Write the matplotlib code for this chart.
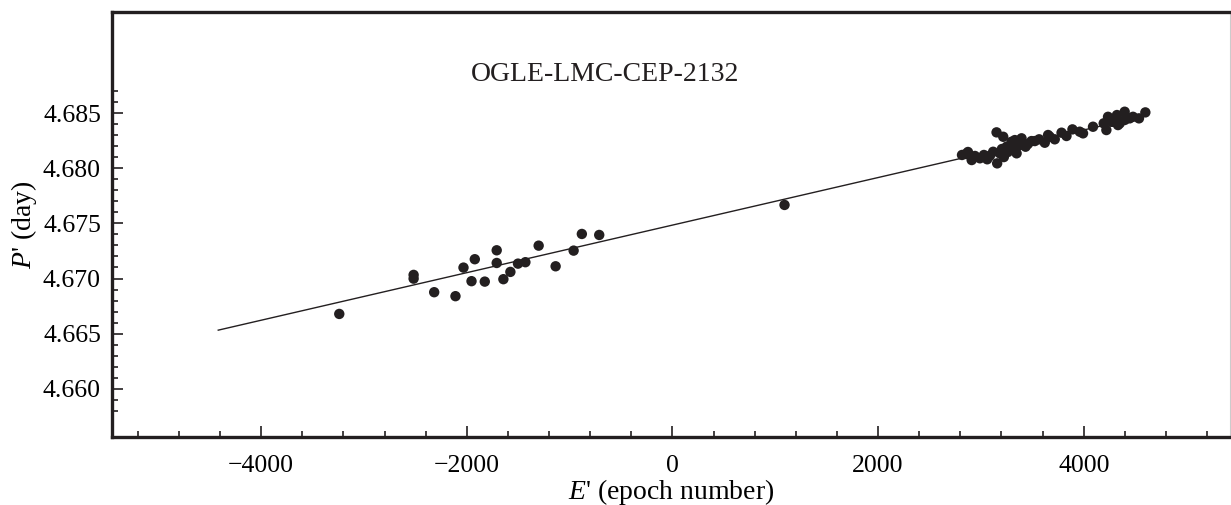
#!/usr/bin/env python3
# -*- coding: utf-8 -*-

import matplotlib
matplotlib.use('Agg')
import matplotlib.pyplot as plt
from matplotlib.ticker import FixedLocator, MultipleLocator

# Epoch numbers E' and periods P' (day)
left_E = [-3240, -2517, -2517, -2317, -2110, -2032, -1954, -1922, -1825, -1709,
          -1709, -1644, -1576, -1502, -1430, -1301, -1136, -961, -881, -712, 1090]
left_P = [4.66679, 4.67033, 4.66999, 4.66876, 4.66840, 4.67099, 4.66976, 4.67175,
          4.66972, 4.67256, 4.67141, 4.66994, 4.67060, 4.67135, 4.67148, 4.67298,
          4.67111, 4.67253, 4.67404, 4.67395, 4.67667]

right_E = [2816, 2854, 2874, 2910, 2942, 2990, 3029, 3061, 3087, 3119, 3152, 3217,
           3158, 3184, 3204, 3250, 3223, 3262, 3298, 3301, 3347, 3330, 3395, 3379,
           3434, 3492, 3456, 3524, 3566, 3621, 3653, 3670, 3718, 3784, 3832, 3890,
           3961, 3993, 4090, 4194, 4220, 4236, 4269, 4284, 4323, 4333, 4350, 4398,
           4398, 4420, 4447, 4479, 4537, 4599]
right_P = [4.68120, 4.68129, 4.68147, 4.68074, 4.68111, 4.68090, 4.68120, 4.68081,
           4.68111, 4.68149, 4.68325, 4.68285, 4.68044, 4.68135, 4.68174, 4.68195,
           4.68101, 4.68147, 4.68240, 4.68174, 4.68135, 4.68255, 4.68271, 4.68210,
           4.68195, 4.68246, 4.68219, 4.68246, 4.68262, 4.68231, 4.68301, 4.68285,
           4.68262, 4.68322, 4.68292, 4.68352, 4.68331, 4.68316, 4.68376, 4.68407,
           4.68346, 4.68466, 4.68421, 4.68421, 4.68482, 4.68391, 4.68407, 4.68512,
           4.68437, 4.68452, 4.68452, 4.68466, 4.68452, 4.68506]

# linear fit, drawn between its two end points
fit_E = [-4417, 4600]
fit_P = [4.66532, 4.68476]

y_major = [4.660, 4.665, 4.670, 4.675, 4.680, 4.685]
y_minor = [4.658 + 0.001 * i for i in range(30)]

plt.rcParams['font.family'] = ['Liberation Serif', 'DejaVu Serif']
plt.rcParams['mathtext.fontset'] = 'custom'
plt.rcParams['mathtext.rm'] = 'Liberation Serif'
plt.rcParams['mathtext.it'] = 'Liberation Serif:italic'

dot = '#231f20'

fig = plt.figure(figsize=(12.31, 5.05), dpi=100)
ax = fig.add_axes([0.091, 0.135, 0.908, 0.841])

ax.plot(fit_E, fit_P, color=dot, linewidth=1.0, zorder=2)
ax.scatter(left_E + right_E, left_P + right_P, s=56, color=dot,
           edgecolors='none', zorder=3)

ax.set_xlim(-5450, 5420)
ax.set_ylim(4.65565, 4.69415)

ax.xaxis.set_major_locator(FixedLocator([-4000, -2000, 0, 2000, 4000]))
ax.xaxis.set_minor_locator(MultipleLocator(400))
ax.yaxis.set_major_locator(FixedLocator(y_major))
ax.yaxis.set_minor_locator(FixedLocator([v for v in y_minor
                                         if min(abs(v - m) for m in y_major) > 1e-6]))
ax.set_xticklabels(['\u22124000', '\u22122000', '0', '2000', '4000'])
ax.set_yticklabels(['%.3f' % v for v in y_major])

ax.tick_params(axis='x', which='both', direction='in', top=False, labelsize=18.5,
               pad=13, color=dot, width=1.2)
ax.tick_params(axis='y', which='both', direction='in', right=False, labelsize=18.5,
               pad=8, color=dot, width=1.2)
ax.tick_params(which='major', length=8)
ax.tick_params(which='minor', length=4.5)

for side in ['left', 'bottom', 'top']:
    ax.spines[side].set_linewidth(2.4)
    ax.spines[side].set_color(dot)
ax.spines['right'].set_linewidth(0.8)
ax.spines['right'].set_color('#cccccc')

ax.set_xlabel("$E$' (epoch number)", fontsize=20, labelpad=0)
ax.set_ylabel("$P$' (day)", fontsize=20, labelpad=3)
ax.text(0.441, 0.852, 'OGLE-LMC-CEP-2132', transform=ax.transAxes,
        fontsize=20, ha='center', va='center', color=dot)

fig.savefig('out.png', dpi=100)
plt.close(fig)
